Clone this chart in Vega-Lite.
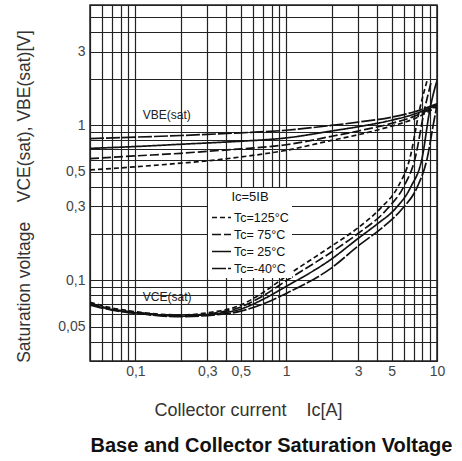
{
  "$schema": "https://vega.github.io/schema/vega-lite/v6.json",
  "width": 347,
  "height": 356,
  "autosize": {"type": "none"},
  "padding": {"left": 90, "top": 5, "right": 25, "bottom": 100},
  "background": "white",
  "config": {
    "view": {"stroke": "#222", "strokeWidth": 1.5},
    "font": "Liberation Sans"
  },
  "title": {
    "text": "Base and Collector Saturation Voltage",
    "orient": "bottom",
    "anchor": "middle",
    "fontSize": 20,
    "fontWeight": "bold",
    "color": "#111",
    "offset": 17,
    "dx": 8
  },
  "layer": [
    {
      "data": {
        "values": [
          {"curve": "VBE-40", "temp": "Tc=-40°C", "Ic": 0.05, "V": 0.82},
          {"curve": "VBE-40", "temp": "Tc=-40°C", "Ic": 0.1, "V": 0.84},
          {"curve": "VBE-40", "temp": "Tc=-40°C", "Ic": 0.2, "V": 0.86},
          {"curve": "VBE-40", "temp": "Tc=-40°C", "Ic": 0.3, "V": 0.875},
          {"curve": "VBE-40", "temp": "Tc=-40°C", "Ic": 0.5, "V": 0.895},
          {"curve": "VBE-40", "temp": "Tc=-40°C", "Ic": 1, "V": 0.93},
          {"curve": "VBE-40", "temp": "Tc=-40°C", "Ic": 2, "V": 1.0},
          {"curve": "VBE-40", "temp": "Tc=-40°C", "Ic": 3, "V": 1.05},
          {"curve": "VBE-40", "temp": "Tc=-40°C", "Ic": 5, "V": 1.13},
          {"curve": "VBE-40", "temp": "Tc=-40°C", "Ic": 7, "V": 1.22},
          {"curve": "VBE-40", "temp": "Tc=-40°C", "Ic": 10, "V": 1.38},
          {"curve": "VBE25", "temp": "Tc= 25°C", "Ic": 0.05, "V": 0.71},
          {"curve": "VBE25", "temp": "Tc= 25°C", "Ic": 0.1, "V": 0.73},
          {"curve": "VBE25", "temp": "Tc= 25°C", "Ic": 0.2, "V": 0.755},
          {"curve": "VBE25", "temp": "Tc= 25°C", "Ic": 0.3, "V": 0.77},
          {"curve": "VBE25", "temp": "Tc= 25°C", "Ic": 0.5, "V": 0.79},
          {"curve": "VBE25", "temp": "Tc= 25°C", "Ic": 1, "V": 0.83},
          {"curve": "VBE25", "temp": "Tc= 25°C", "Ic": 2, "V": 0.92},
          {"curve": "VBE25", "temp": "Tc= 25°C", "Ic": 3, "V": 0.98},
          {"curve": "VBE25", "temp": "Tc= 25°C", "Ic": 5, "V": 1.08},
          {"curve": "VBE25", "temp": "Tc= 25°C", "Ic": 7, "V": 1.18},
          {"curve": "VBE25", "temp": "Tc= 25°C", "Ic": 10, "V": 1.36},
          {"curve": "VBE75", "temp": "Tc= 75°C", "Ic": 0.05, "V": 0.61},
          {"curve": "VBE75", "temp": "Tc= 75°C", "Ic": 0.1, "V": 0.635},
          {"curve": "VBE75", "temp": "Tc= 75°C", "Ic": 0.2, "V": 0.66},
          {"curve": "VBE75", "temp": "Tc= 75°C", "Ic": 0.3, "V": 0.68},
          {"curve": "VBE75", "temp": "Tc= 75°C", "Ic": 0.5, "V": 0.705},
          {"curve": "VBE75", "temp": "Tc= 75°C", "Ic": 1, "V": 0.75},
          {"curve": "VBE75", "temp": "Tc= 75°C", "Ic": 2, "V": 0.85},
          {"curve": "VBE75", "temp": "Tc= 75°C", "Ic": 3, "V": 0.92},
          {"curve": "VBE75", "temp": "Tc= 75°C", "Ic": 5, "V": 1.03},
          {"curve": "VBE75", "temp": "Tc= 75°C", "Ic": 7, "V": 1.14},
          {"curve": "VBE75", "temp": "Tc= 75°C", "Ic": 10, "V": 1.34},
          {"curve": "VBE125", "temp": "Tc=125°C", "Ic": 0.05, "V": 0.515},
          {"curve": "VBE125", "temp": "Tc=125°C", "Ic": 0.1, "V": 0.54},
          {"curve": "VBE125", "temp": "Tc=125°C", "Ic": 0.2, "V": 0.57},
          {"curve": "VBE125", "temp": "Tc=125°C", "Ic": 0.3, "V": 0.59},
          {"curve": "VBE125", "temp": "Tc=125°C", "Ic": 0.5, "V": 0.625},
          {"curve": "VBE125", "temp": "Tc=125°C", "Ic": 1, "V": 0.69},
          {"curve": "VBE125", "temp": "Tc=125°C", "Ic": 2, "V": 0.8},
          {"curve": "VBE125", "temp": "Tc=125°C", "Ic": 3, "V": 0.87},
          {"curve": "VBE125", "temp": "Tc=125°C", "Ic": 5, "V": 0.99},
          {"curve": "VBE125", "temp": "Tc=125°C", "Ic": 7, "V": 1.1},
          {"curve": "VBE125", "temp": "Tc=125°C", "Ic": 10, "V": 1.32},
          {"curve": "VCE125", "temp": "Tc=125°C", "Ic": 0.05, "V": 0.072},
          {"curve": "VCE125", "temp": "Tc=125°C", "Ic": 0.07, "V": 0.066},
          {"curve": "VCE125", "temp": "Tc=125°C", "Ic": 0.1, "V": 0.0625},
          {"curve": "VCE125", "temp": "Tc=125°C", "Ic": 0.2, "V": 0.0595},
          {"curve": "VCE125", "temp": "Tc=125°C", "Ic": 0.3, "V": 0.0615},
          {"curve": "VCE125", "temp": "Tc=125°C", "Ic": 0.5, "V": 0.069},
          {"curve": "VCE125", "temp": "Tc=125°C", "Ic": 0.7, "V": 0.083},
          {"curve": "VCE125", "temp": "Tc=125°C", "Ic": 1, "V": 0.106},
          {"curve": "VCE125", "temp": "Tc=125°C", "Ic": 2, "V": 0.166},
          {"curve": "VCE125", "temp": "Tc=125°C", "Ic": 3, "V": 0.218},
          {"curve": "VCE125", "temp": "Tc=125°C", "Ic": 4.2, "V": 0.29},
          {"curve": "VCE125", "temp": "Tc=125°C", "Ic": 5.5, "V": 0.4},
          {"curve": "VCE125", "temp": "Tc=125°C", "Ic": 6.6, "V": 0.61},
          {"curve": "VCE125", "temp": "Tc=125°C", "Ic": 7.7, "V": 1.29},
          {"curve": "VCE125", "temp": "Tc=125°C", "Ic": 8.6, "V": 1.95},
          {"curve": "VCE75", "temp": "Tc= 75°C", "Ic": 0.05, "V": 0.071},
          {"curve": "VCE75", "temp": "Tc= 75°C", "Ic": 0.07, "V": 0.065},
          {"curve": "VCE75", "temp": "Tc= 75°C", "Ic": 0.1, "V": 0.062},
          {"curve": "VCE75", "temp": "Tc= 75°C", "Ic": 0.2, "V": 0.059},
          {"curve": "VCE75", "temp": "Tc= 75°C", "Ic": 0.3, "V": 0.0605},
          {"curve": "VCE75", "temp": "Tc= 75°C", "Ic": 0.5, "V": 0.067},
          {"curve": "VCE75", "temp": "Tc= 75°C", "Ic": 0.7, "V": 0.079},
          {"curve": "VCE75", "temp": "Tc= 75°C", "Ic": 1, "V": 0.099},
          {"curve": "VCE75", "temp": "Tc= 75°C", "Ic": 2, "V": 0.152},
          {"curve": "VCE75", "temp": "Tc= 75°C", "Ic": 3, "V": 0.2},
          {"curve": "VCE75", "temp": "Tc= 75°C", "Ic": 4.7, "V": 0.29},
          {"curve": "VCE75", "temp": "Tc= 75°C", "Ic": 6, "V": 0.4},
          {"curve": "VCE75", "temp": "Tc= 75°C", "Ic": 7.15, "V": 0.61},
          {"curve": "VCE75", "temp": "Tc= 75°C", "Ic": 8.3, "V": 1.29},
          {"curve": "VCE75", "temp": "Tc= 75°C", "Ic": 9.2, "V": 1.95},
          {"curve": "VCE25", "temp": "Tc= 25°C", "Ic": 0.05, "V": 0.07},
          {"curve": "VCE25", "temp": "Tc= 25°C", "Ic": 0.07, "V": 0.0645},
          {"curve": "VCE25", "temp": "Tc= 25°C", "Ic": 0.1, "V": 0.0615},
          {"curve": "VCE25", "temp": "Tc= 25°C", "Ic": 0.2, "V": 0.0585},
          {"curve": "VCE25", "temp": "Tc= 25°C", "Ic": 0.3, "V": 0.06},
          {"curve": "VCE25", "temp": "Tc= 25°C", "Ic": 0.5, "V": 0.065},
          {"curve": "VCE25", "temp": "Tc= 25°C", "Ic": 0.7, "V": 0.075},
          {"curve": "VCE25", "temp": "Tc= 25°C", "Ic": 1, "V": 0.091},
          {"curve": "VCE25", "temp": "Tc= 25°C", "Ic": 2, "V": 0.137},
          {"curve": "VCE25", "temp": "Tc= 25°C", "Ic": 3, "V": 0.186},
          {"curve": "VCE25", "temp": "Tc= 25°C", "Ic": 4, "V": 0.23},
          {"curve": "VCE25", "temp": "Tc= 25°C", "Ic": 5.3, "V": 0.29},
          {"curve": "VCE25", "temp": "Tc= 25°C", "Ic": 6.7, "V": 0.4},
          {"curve": "VCE25", "temp": "Tc= 25°C", "Ic": 7.95, "V": 0.61},
          {"curve": "VCE25", "temp": "Tc= 25°C", "Ic": 9.0, "V": 1.29},
          {"curve": "VCE25", "temp": "Tc= 25°C", "Ic": 10, "V": 1.95},
          {"curve": "VCE-40", "temp": "Tc=-40°C", "Ic": 0.05, "V": 0.069},
          {"curve": "VCE-40", "temp": "Tc=-40°C", "Ic": 0.07, "V": 0.064},
          {"curve": "VCE-40", "temp": "Tc=-40°C", "Ic": 0.1, "V": 0.061},
          {"curve": "VCE-40", "temp": "Tc=-40°C", "Ic": 0.2, "V": 0.058},
          {"curve": "VCE-40", "temp": "Tc=-40°C", "Ic": 0.3, "V": 0.059},
          {"curve": "VCE-40", "temp": "Tc=-40°C", "Ic": 0.5, "V": 0.063},
          {"curve": "VCE-40", "temp": "Tc=-40°C", "Ic": 0.7, "V": 0.07},
          {"curve": "VCE-40", "temp": "Tc=-40°C", "Ic": 1, "V": 0.082},
          {"curve": "VCE-40", "temp": "Tc=-40°C", "Ic": 2, "V": 0.12},
          {"curve": "VCE-40", "temp": "Tc=-40°C", "Ic": 3, "V": 0.166},
          {"curve": "VCE-40", "temp": "Tc=-40°C", "Ic": 4.5, "V": 0.225},
          {"curve": "VCE-40", "temp": "Tc=-40°C", "Ic": 5.9, "V": 0.29},
          {"curve": "VCE-40", "temp": "Tc=-40°C", "Ic": 7.4, "V": 0.4},
          {"curve": "VCE-40", "temp": "Tc=-40°C", "Ic": 8.6, "V": 0.61},
          {"curve": "VCE-40", "temp": "Tc=-40°C", "Ic": 9.6, "V": 1.1},
          {"curve": "VCE-40", "temp": "Tc=-40°C", "Ic": 10, "V": 1.35}
        ]
      },
      "mark": {"type": "line", "clip": true, "interpolate": "monotone", "color": "#111"},
      "encoding": {
        "x": {
          "field": "Ic",
          "type": "quantitative",
          "scale": {"type": "log", "domain": [0.05, 10], "nice": false},
          "axis": {
            "values": [0.05, 0.06, 0.07, 0.08, 0.09, 0.1, 0.2, 0.3, 0.4, 0.5, 0.6, 0.7, 0.8, 0.9, 1, 2, 3, 4, 5, 6, 7, 8, 9, 10],
            "labelExpr": "datum.value == 0.1 ? '0,1' : datum.value == 0.3 ? '0,3' : datum.value == 0.5 ? '0,5' : datum.value == 1 ? '1' : datum.value == 3 ? '3' : datum.value == 5 ? '5' : datum.value == 10 ? '10' : ''",
            "grid": true,
            "gridColor": "#222",
            "gridWidth": 1.2,
            "gridOpacity": 1,
            "ticks": false,
            "domain": false,
            "labelFontSize": 14,
            "labelColor": "#444",
            "labelPadding": 3,
            "labelOverlap": false,
            "labelFlush": false,
            "title": "Collector current\u00a0\u00a0\u00a0 Ic[A]",
            "titleFontSize": 18,
            "titleFontWeight": "normal",
            "titleColor": "#333",
            "titleX": 158,
            "titleY": 49,
            "titleBaseline": "middle",
            "titleAlign": "center"
          }
        },
        "y": {
          "field": "V",
          "type": "quantitative",
          "scale": {"type": "log", "domain": [0.03, 6], "nice": false},
          "axis": {
            "values": [0.03, 0.04, 0.05, 0.06, 0.07, 0.08, 0.09, 0.1, 0.2, 0.3, 0.4, 0.5, 0.6, 0.7, 0.8, 0.9, 1, 2, 3, 4, 5, 6],
            "labelExpr": "datum.value == 0.05 ? '0,05' : datum.value == 0.1 ? '0,1' : datum.value == 0.3 ? '0,3' : datum.value == 0.5 ? '0,5' : datum.value == 1 ? '1' : datum.value == 3 ? '3' : ''",
            "grid": true,
            "gridColor": "#222",
            "gridWidth": 1.2,
            "gridOpacity": 1,
            "ticks": false,
            "domain": false,
            "labelFontSize": 14,
            "labelColor": "#444",
            "labelPadding": 5,
            "labelOverlap": false,
            "labelFlush": false,
            "title": "Saturation voltage\u00a0\u00a0\u00a0 VCE(sat), VBE(sat)[V]",
            "titleFontSize": 17.5,
            "titleFontWeight": "normal",
            "titleColor": "#333",
            "titleX": -66,
            "titleY": 191,
            "titleAngle": -90,
            "titleBaseline": "middle",
            "titleAlign": "center"
          }
        },
        "detail": {"field": "curve"},
        "strokeDash": {
          "field": "temp",
          "type": "nominal",
          "scale": {
            "domain": ["Tc=125°C", "Tc= 75°C", "Tc= 25°C", "Tc=-40°C"],
            "range": [[5, 3], [9, 3], [1, 0], [14, 2]]
          },
          "legend": {
            "orient": "none",
            "legendX": 118,
            "legendY": 183,
            "title": "Ic=5IB",
            "titleFontSize": 13,
            "titleFontWeight": "normal",
            "titleColor": "#111",
            "titleAnchor": "middle",
            "titlePadding": 3,
            "labelFontSize": 12.5,
            "labelColor": "#111",
            "labelOffset": 2,
            "symbolType": "stroke",
            "symbolSize": 361,
            "symbolStrokeWidth": 2,
            "symbolStrokeColor": "#111",
            "fillColor": "white",
            "padding": 3,
            "rowPadding": 0
          }
        },
        "strokeWidth": {
          "field": "temp",
          "type": "nominal",
          "scale": {
            "domain": ["Tc=125°C", "Tc= 75°C", "Tc= 25°C", "Tc=-40°C"],
            "range": [1.7, 1.7, 2.4, 1.8]
          },
          "legend": null
        }
      }
    },
    {
      "data": {
        "values": [
          {"Ic": 0.112, "V": 1.16, "label": "VBE(sat)"},
          {"Ic": 0.112, "V": 0.078, "label": "VCE(sat)"}
        ]
      },
      "mark": {"type": "text", "align": "left", "baseline": "middle", "fontSize": 12, "color": "#222"},
      "encoding": {
        "x": {"field": "Ic", "type": "quantitative"},
        "y": {"field": "V", "type": "quantitative"},
        "text": {"field": "label"}
      }
    }
  ]
}
